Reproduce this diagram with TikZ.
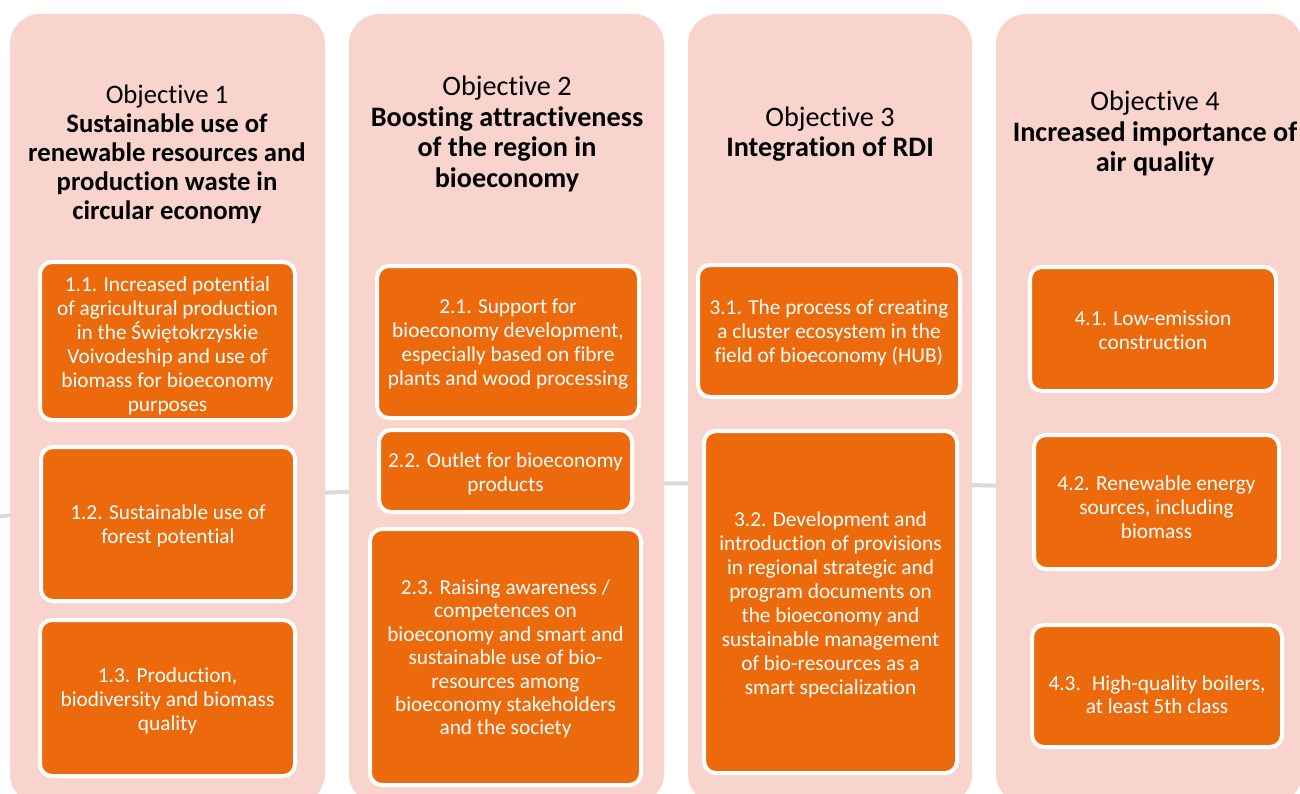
\documentclass[tikz,border=0pt]{standalone}
\usepackage{fontspec}
\setmainfont[Ligatures=NoCommon]{Carlito}
\usetikzlibrary{positioning}
\definecolor{objpink}{RGB}{248,212,205}
\definecolor{taskorange}{RGB}{236,106,11}
\definecolor{arcgrey}{RGB}{218,218,218}
\newcommand{\taskstrut}[1]{\rule{0pt}{#1pt}}

\begin{document}
\begin{tikzpicture}[x=1pt,y=-1pt]
          \tikzset{ObjStyle/.style = {fill=objpink, rounded corners=30pt, inner sep=0pt}}
          \tikzset{HeadStyle/.style = {align=center, font=\fontsize{28.2}{30.5}\selectfont}}
          \tikzset{TaskStyle/.style = {fill=taskorange, draw=white, line width=4pt,
              rounded corners=12pt, text=white, align=center, inner sep=0pt,
              font=\fontsize{21.3}{24}\selectfont}}

          \clip (0,0) rectangle (1300,793);
          \useasboundingbox (0,0) rectangle (1300,793);

          \draw[arcgrey, line width=4pt] (-5,517) .. controls (300,482) and (900,470) .. (1305,500);

          \node[ObjStyle, minimum width=315pt, minimum height=790pt] (obj1) at (167.5,409) {};
          \node[ObjStyle, minimum width=315pt, minimum height=790pt] (obj2) at (506.5,409) {};
          \node[ObjStyle, minimum width=284pt, minimum height=790pt] (obj3) at (830,409) {};
          \node[ObjStyle, minimum width=306pt, minimum height=790pt] (obj4) at (1149,409) {};

          \node[HeadStyle, font=\fontsize{26.7}{29}\selectfont] (head1) at (167,154.5)
              {Objective 1\\ \textbf{Sustainable use of}\\ \textbf{renewable resources and}\\
               \textbf{production waste in}\\ \textbf{circular economy}};
          \node[HeadStyle] (head2) at (507,134) {Objective 2\\ \textbf{Boosting attractiveness}\\
              \textbf{of the region in}\\ \textbf{bioeconomy}};
          \node[HeadStyle] (head3) at (830,134) {Objective 3\\ \textbf{Integration of RDI}};
          \node[HeadStyle] (head4) at (1155,133.5) {Objective 4\\ \textbf{Increased importance of}\\
              \textbf{air quality}};

          \node[TaskStyle, minimum width=255pt, minimum height=158pt] (t11) at (167.5,341)
              {\taskstrut{25}1.1. Increased potential\\ of agricultural production\\ in the Świętokrzyskie\\
               Voivodeship and use of\\ biomass for bioeconomy\\ purposes};
          \node[TaskStyle, minimum width=254pt, minimum height=154pt] (t12) at (168,524)
              {\taskstrut{19}1.2. Sustainable use of\\ forest potential};
          \node[TaskStyle, minimum width=255pt, minimum height=156pt] (t13) at (167.5,698)
              {\taskstrut{21}1.3. Production,\\ biodiversity and biomass\\ quality};

          \node[TaskStyle, minimum width=262pt, minimum height=152pt] (t21) at (508,342)
              {\taskstrut{19}2.1. Support for\\ bioeconomy development,\\ especially based on fibre\\
               plants and wood processing};
          \node[TaskStyle, minimum width=253pt, minimum height=82pt] (t22) at (505.5,471)
              {\taskstrut{21}2.2. Outlet for bioeconomy\\ products};
          \node[TaskStyle, font=\fontsize{21.3}{23.4}\selectfont, minimum width=271pt,
              minimum height=256pt] (t23) at (505.5,657)
              {\taskstrut{19}2.3. Raising awareness /\\ competences on\\ bioeconomy and smart and\\
               sustainable use of bio-\\ resources among\\ bioeconomy stakeholders\\ and the society};

          \node[TaskStyle, minimum width=262pt, minimum height=132pt] (t31) at (829,331)
              {\taskstrut{19}3.1. The process of creating\\ a cluster ecosystem in the\\ field of bioeconomy (HUB)};
          \node[TaskStyle, minimum width=253pt, minimum height=342pt] (t32) at (830.5,602)
              {\taskstrut{21}3.2. Development and\\ introduction of provisions\\ in regional strategic and\\
               program documents on\\ the bioeconomy and\\ sustainable management\\
               of bio-resources as a\\ smart specialization};

          \node[TaskStyle, minimum width=246pt, minimum height=124pt] (t41) at (1153,329)
              {\taskstrut{17}4.1. Low-emission\\ construction};
          \node[TaskStyle, minimum width=245pt, minimum height=134pt] (t42) at (1156.5,502)
              {\taskstrut{25}4.2. Renewable energy\\ sources, including\\ biomass};
          \node[TaskStyle, font=\fontsize{21.3}{23}\selectfont, minimum width=250pt,
              minimum height=122pt] (t43) at (1157,686)
              {\taskstrut{33}4.3.~ High-quality boilers,\\ at least 5th class};
        \end{tikzpicture}
\end{document}
